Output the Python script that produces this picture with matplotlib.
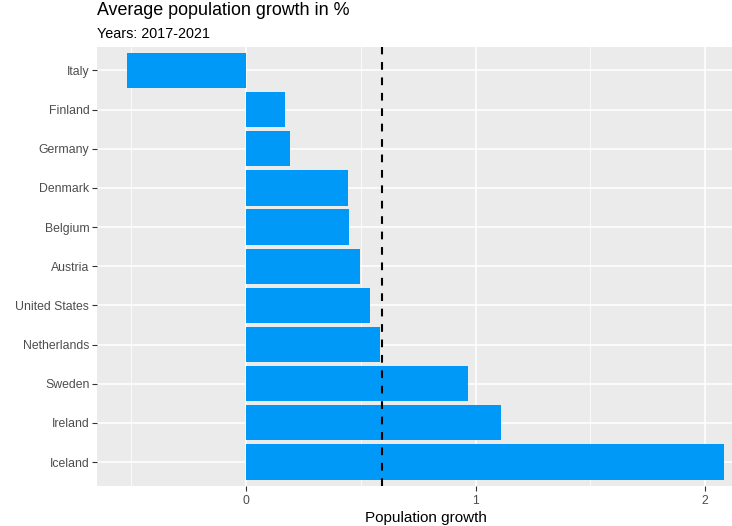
import numpy as np
import matplotlib
matplotlib.use("Agg")
import matplotlib.pyplot as plt
from matplotlib.ticker import MultipleLocator

# data (top to bottom)
countries = ["Italy", "Finland", "Germany", "Denmark", "Belgium", "Austria",
             "United States", "Netherlands", "Sweden", "Ireland", "Iceland"]
growth = [-0.52, 0.17, 0.19, 0.444, 0.449, 0.497, 0.54, 0.584, 0.967, 1.11, 2.083]

plt.rcParams["font.family"] = ["Liberation Sans", "DejaVu Sans"]

W, H = 732, 526
fig = plt.figure(figsize=(W / 100, H / 100), dpi=100)
fig.patch.set_facecolor("white")

# panel in pixel coords (panel runs a bit past the right edge, as in the reference)
left, right, top, bottom = 97, 754, 47, 485.5
ax = fig.add_axes([left / W, 1 - bottom / H, (right - left) / W, (bottom - top) / H])
ax.set_facecolor("#EBEBEB")

ypos = np.arange(len(countries))[::-1]
ax.barh(ypos, growth, height=0.9, color="#0099F8", zorder=3)
ax.axvline(np.mean(growth), color="black", linestyle=(0, (3.7, 3.7)),
           linewidth=1.5, zorder=4)

lo, hi = min(growth), max(growth)
pad = 0.05 * (hi - lo)
ax.set_xlim(lo - pad, hi + pad)
ax.set_ylim(-0.6, len(countries) - 0.4)

ax.xaxis.set_major_locator(MultipleLocator(1))
ax.xaxis.set_minor_locator(MultipleLocator(0.5))
ax.set_yticks(ypos)
ax.set_yticklabels(countries)

ax.grid(which="major", color="white", linewidth=1.1, zorder=0)
ax.grid(which="minor", axis="x", color="white", linewidth=0.55, zorder=0)
ax.set_axisbelow(True)
for s in ax.spines.values():
    s.set_visible(False)

ax.tick_params(axis="both", which="major", length=3.5, width=0.8, color="#333333",
               labelcolor="#4D4D4D", labelsize=8.8, pad=2)
ax.tick_params(axis="x", which="major", pad=3)
ax.tick_params(axis="both", which="minor", length=0)

ax.set_xlabel("Population growth", fontsize=11, color="black", labelpad=3)

fig.text(left / W, 1 - 15 / H, "Average population growth in %", fontsize=12.9,
         ha="left", va="baseline", color="black")
fig.text(left / W, 1 - 38 / H, "Years: 2017-2021", fontsize=10.4,
         ha="left", va="baseline", color="black")

fig.savefig("out.png", dpi=100, facecolor="white")
